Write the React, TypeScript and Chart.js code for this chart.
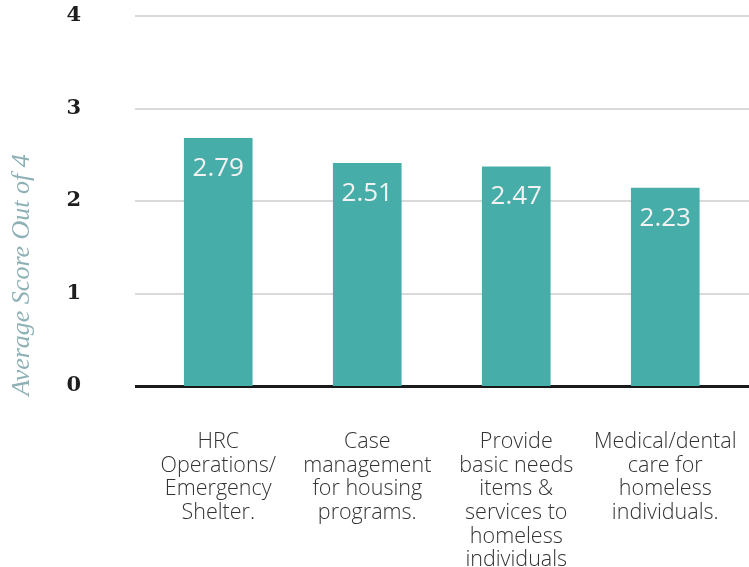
import React, { useEffect, useRef } from "react";
import { Chart, registerables } from "chart.js";

Chart.register(...registerables);

const CATEGORIES: string[][] = [
  ["HRC", "Operations/", "Emergency", "Shelter."],
  ["Case", "management", "for housing", "programs."],
  ["Provide", "basic needs", "items &", "services to", "homeless", "individuals"],
  ["Medical/dental", "care for", "homeless", "individuals."],
];
const VALUES: number[] = [2.79, 2.51, 2.47, 2.23];
const Y_TICKS: number[] = [0, 1, 2, 3, 4];
const Y_TITLE = "Average Score Out of 4";

const BAR_COLOR = "#46ada8";

const valueLabelPlugin = {
  id: "valueLabels",
  afterDatasetsDraw(chart: any) {
    const ctx = chart.ctx;
    const meta = chart.getDatasetMeta(0);
    ctx.save();
    ctx.font = "400 26px 'Open Sans'";
    ctx.fillStyle = "#f2f2f2";
    ctx.textAlign = "center";
    ctx.textBaseline = "middle";
    meta.data.forEach((bar: any, i: number) => {
      ctx.fillText(VALUES[i].toFixed(2), bar.x, bar.y + 30);
    });
    ctx.restore();
  },
};

const yTitlePlugin = {
  id: "yTitle",
  afterDraw(chart: any) {
    const ctx = chart.ctx;
    ctx.save();
    ctx.translate(22, 275);
    ctx.rotate(-Math.PI / 2);
    ctx.font = "italic 26px 'Liberation Serif'";
    ctx.fillStyle = "#8db1b5";
    ctx.textAlign = "center";
    ctx.textBaseline = "middle";
    ctx.fillText(Y_TITLE, 0, 0);
    ctx.restore();
  },
};

export default function App() {
  const ref = useRef<HTMLCanvasElement | null>(null);

  useEffect(() => {
    if (!ref.current) return;
    const chart = new Chart(ref.current, {
      type: "bar",
      data: {
        datasets: [
          {
            data: VALUES.map((v, i) => ({ x: i, y: v })),
            backgroundColor: BAR_COLOR,
            barThickness: 68,
            borderWidth: 0,
            yAxisID: "yBars",
          } as any,
        ],
      },
      options: {
        responsive: false,
        animation: false,
        events: [],
        layout: { padding: { top: 16, right: 0, bottom: 0, left: 0 } },
        plugins: {
          legend: { display: false },
          tooltip: { enabled: false },
          title: { display: false },
        },
        scales: {
          x: {
            type: "linear",
            offset: false,
            min: -0.5587,
            max: 3.562,
            grid: { display: false },
            border: { display: false },
            afterBuildTicks: (s: any) => {
              s.ticks = CATEGORIES.map((_, i) => ({ value: i }));
            },
            afterFit: (s: any) => {
              s.height = 181;
              s.paddingLeft = 0;
              s.paddingRight = 0;
            },
            ticks: {
              autoSkip: false,
              maxRotation: 0,
              minRotation: 0,
              padding: 36,
              color: "#333333",
              font: { family: "'Open Sans'", size: 21.5, weight: "300", lineHeight: 1.1 },
              callback: (v: any) => CATEGORIES[v as number] ?? "",
            },
          },
          y: {
            min: 0,
            max: 4,
            afterBuildTicks: (s: any) => {
              s.ticks = Y_TICKS.map((v) => ({ value: v }));
            },
            afterFit: (s: any) => {
              s.width = 135;
              s.paddingTop = 0;
              s.paddingBottom = 0;
            },
            border: { display: false },
            grid: {
              drawTicks: false,
              color: (c: any) => (c.tick && c.tick.value === 0 ? "#1a1a1a" : "#d9d9d9"),
              lineWidth: (c: any) => (c.tick && c.tick.value === 0 ? 3 : 2),
            },
            ticks: {
              padding: 54,
              color: "#1e1e1e",
              font: { family: "'DejaVu Serif'", size: 21, weight: "bold" },
            },
          },
          yBars: {
            display: false,
            min: 0,
            max: 4.17,
          },
        },
      },
      plugins: [valueLabelPlugin, yTitlePlugin],
    } as any);
    return () => chart.destroy();
  }, []);

  return (
    <canvas
      ref={ref}
      width={749}
      height={567}
      style={{ position: "absolute", left: 0, top: 0, display: "block", width: 749, height: 567 }}
    />
  );
}
